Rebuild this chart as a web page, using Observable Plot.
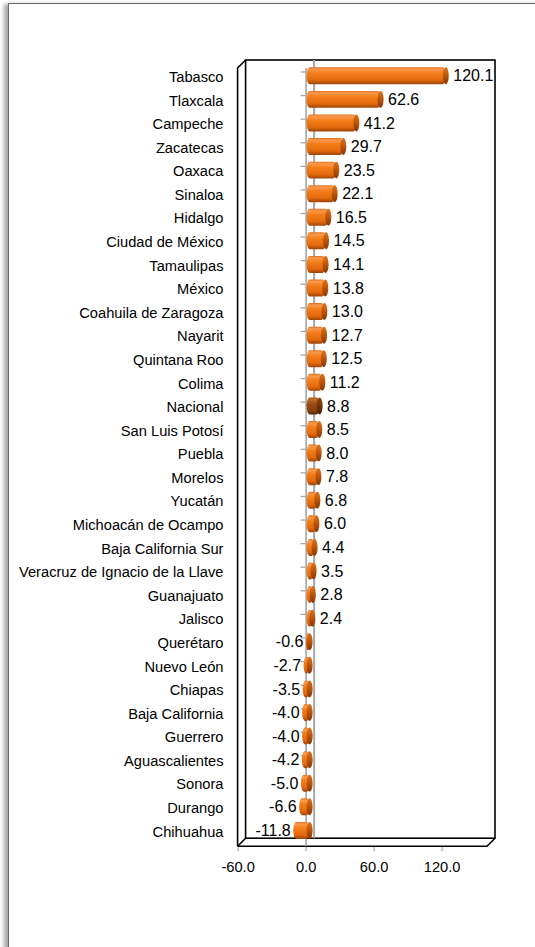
<!DOCTYPE html>
<html>
<head>
<meta charset="utf-8">
<script src="https://cdn.jsdelivr.net/npm/d3@7"></script>
<script src="https://cdn.jsdelivr.net/npm/@observablehq/plot@0.6"></script>
<style>
  html, body { margin: 0; padding: 0; background: #fff; }
  #wrap { position: relative; width: 535px; height: 947px; overflow: hidden; background: #fff; }
  #border { position: absolute; left: 8px; top: 3px; width: 620px; height: 1020px;
            border: 1.5px solid #6a6a6a; box-shadow: -4px 1px 4px rgba(0,0,0,0.35); background: #fff; }
  #chart { position: absolute; left: 0; top: 0; }
  #chart [aria-label="x-axis"] line,
  #chart [aria-label="x-axis tick"],
  #chart [aria-label="x-axis tick"] * { stroke: #999999; }
</style>
</head>
<body>
<div id="wrap"><div id="border"></div><div id="chart"></div></div>
<script>
const states = ["Tabasco","Tlaxcala","Campeche","Zacatecas","Oaxaca","Sinaloa","Hidalgo","Ciudad de México","Tamaulipas","México","Coahuila de Zaragoza","Nayarit","Quintana Roo","Colima","Nacional","San Luis Potosí","Puebla","Morelos","Yucatán","Michoacán de Ocampo","Baja California Sur","Veracruz de Ignacio de la Llave","Guanajuato","Jalisco","Querétaro","Nuevo León","Chiapas","Baja California","Guerrero","Aguascalientes","Sonora","Durango","Chihuahua"];
const values = [120.1,62.6,41.2,29.7,23.5,22.1,16.5,14.5,14.1,13.8,13.0,12.7,12.5,11.2,8.8,8.5,8.0,7.8,6.8,6.0,4.4,3.5,2.8,2.4,-0.6,-2.7,-3.5,-4.0,-4.0,-4.2,-5.0,-6.6,-11.8];
const xTicks = [-60, 0, 60, 120];
const xDomain = [-60, 160];
const highlight = "Nacional";

const data = states.map((s, i) => ({state: s, value: values[i]}));
const regular = data.filter(d => d.state !== highlight);
const special = data.filter(d => d.state === highlight);
const DEPTH = 8;

function box(index, scales, values, dimensions) {
  const {x, y} = scales;
  const x0 = x(xDomain[0]), x1 = x(xDomain[1]);
  const y0 = dimensions.marginTop, y1 = dimensions.height - dimensions.marginBottom;
  const g = d3.create("svg:g");
  const s = g.append("g").attr("fill", "none").attr("stroke", "#000").attr("stroke-width", 1.6);
  s.append("rect").attr("x", x0 + DEPTH).attr("y", y0 - DEPTH).attr("width", x1 - x0).attr("height", y1 - y0);
  s.append("path").attr("d", `M${x0},${y1}V${y0}L${x0 + DEPTH},${y0 - DEPTH}`);
  s.append("path").attr("d", `M${x0},${y1}L${x0 + DEPTH},${y1 - DEPTH}`);
  s.append("path").attr("d", `M${x0},${y1}H${x1}L${x1 + DEPTH},${y1 - DEPTH}`);
  const t = g.append("g").attr("stroke", "#a6a6a6").attr("stroke-width", 1.3);
  const step = y.step(), bw = y.bandwidth();
  const bounds = states.map(st => y(st) + bw / 2 - step / 2 + DEPTH / 2);
  bounds.push(y(states[states.length - 1]) + bw / 2 + step / 2 + DEPTH / 2);
  for (const b of bounds) {
    if (b > y1) continue;
    t.append("line").attr("x1", x(0) - 5).attr("x2", x(0)).attr("y1", b).attr("y2", b);
  }
  return g.node();
}

const plot = Plot.plot({
  width: 535,
  height: 947,
  marginLeft: 237.6,
  marginRight: 48,
  marginTop: 68,
  marginBottom: 100.8,
  style: {fontFamily: "'Liberation Sans', Arial, sans-serif", fontSize: "14.67px", background: "transparent", color: "#000", overflow: "visible"},
  x: {domain: xDomain, ticks: xTicks, tickFormat: d => d.toFixed(1), tickSize: 5, tickPadding: 9.5, label: null},
  y: {domain: states, axis: null, paddingInner: 0.28, paddingOuter: 0.14, round: false},
  marks: [
    box,
    Plot.ruleX([0], {dx: DEPTH, dy: -DEPTH, stroke: "#a6a6a6", strokeWidth: 2}),
    Plot.ruleX([0], {stroke: "#a6a6a6", strokeWidth: 1.6}),
    Plot.barX(regular, {x1: d => Math.min(0, d.value), x2: d => Math.max(0, d.value), y: "state", dx: DEPTH / 2, dy: -DEPTH / 2, insetLeft: -3, rx: 3, ry: 8.5, fill: "url(#gBar)"}),
    Plot.barX(special, {x1: d => Math.min(0, d.value), x2: d => Math.max(0, d.value), y: "state", dx: DEPTH / 2, dy: -DEPTH / 2, insetLeft: -3, rx: 3, ry: 8.5, fill: "url(#gBarN)"}),
    Plot.barX(regular, {x1: d => Math.max(0, d.value), x2: d => Math.max(0, d.value), y: "state", dx: DEPTH / 2, dy: -DEPTH / 2, insetLeft: -3, insetRight: -3, rx: 3, ry: 8.5, fill: "url(#gCap)"}),
    Plot.barX(special, {x1: d => Math.max(0, d.value), x2: d => Math.max(0, d.value), y: "state", dx: DEPTH / 2, dy: -DEPTH / 2, insetLeft: -3, insetRight: -3, rx: 3, ry: 8.5, fill: "url(#gCapN)"}),
    Plot.text(data.filter(d => d.value >= 0), {x: "value", y: "state", text: d => d.value.toFixed(1), textAnchor: "start", dx: 11, dy: -4, fontSize: 16, fill: "#000"}),
    Plot.text(data.filter(d => d.value < 0), {x: "value", y: "state", text: d => d.value.toFixed(1), textAnchor: "end", dx: -2, dy: -4, fontSize: 16, fill: "#000"}),
    Plot.text(data, {frameAnchor: "left", y: "state", text: "state", textAnchor: "end", dx: -14.6, dy: -3, fontSize: 14.67, fill: "#000"})
  ]
});

const defs = d3.select(plot).insert("defs", ":first-child");
function grad(id, stops) {
  const lg = defs.append("linearGradient").attr("id", id).attr("x1", 0).attr("y1", 0).attr("x2", 0).attr("y2", 1);
  for (const [o, c] of stops) lg.append("stop").attr("offset", o).attr("stop-color", c);
}
grad("gBar", [[0, "#e2701c"], [0.12, "#fa9a4e"], [0.35, "#f47e1a"], [0.75, "#e46a0b"], [1, "#9c4308"]]);
grad("gCap", [[0, "#d8731f"], [0.4, "#c25a0c"], [1, "#853705"]]);
grad("gBarN", [[0, "#a65518"], [0.12, "#b86a2a"], [0.4, "#9a4b10"], [0.8, "#83400b"], [1, "#552604"]]);
grad("gCapN", [[0, "#8c4612"], [0.5, "#6f3208"], [1, "#4a2003"]]);

document.getElementById("chart").appendChild(plot);
</script>
</body>
</html>
